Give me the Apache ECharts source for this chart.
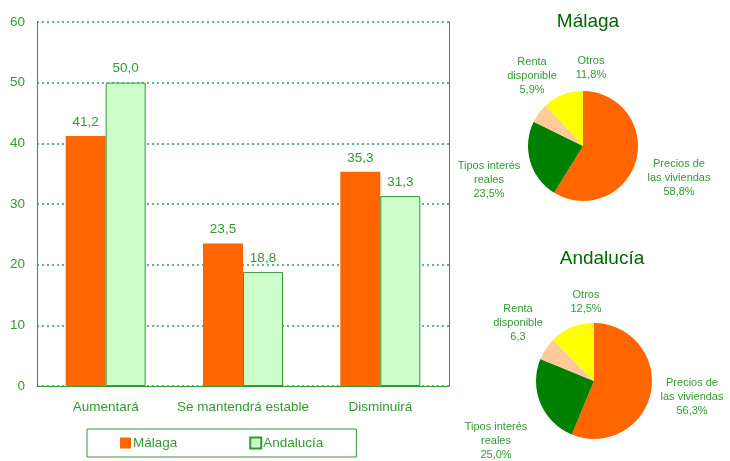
<!DOCTYPE html>
<html>
<head>
<meta charset="utf-8">
<script src="https://cdn.jsdelivr.net/npm/echarts@6/dist/echarts.min.js"></script>
<style>
  html, body { margin: 0; padding: 0; background: #fff; }
  #chart { width: 730px; height: 461px; }
</style>
</head>
<body>
<div id="chart"></div>
<script>
// datos
var categories = ['Aumentará', 'Se mantendrá estable', 'Disminuirá']
var malagaBars = [41.2, 23.5, 35.3]
var andaluciaBars = [50.0, 18.8, 31.3]
var yTicks = [0, 10, 20, 30, 40, 50, 60]

var pieNames = ['Precios de\nlas viviendas', 'Tipos interés\nreales', 'Renta\ndisponible', 'Otros']
var malagaPie = [58.8, 23.5, 5.9, 11.8]
var andaluciaPie = [56.3, 25.0, 6.3, 12.5]
var andaluciaPieLabels = ['56,3%', '25,0%', '6,3', '12,5%']
var malagaPieLabels = ['58,8%', '23,5%', '5,9%', '11,8%']

var green = '#339933'
var pieColors = ['#FF6600', '#008000', '#FFCC99', '#FFFF00']
var font = 'Liberation Sans, Arial, sans-serif'

// posiciones de las etiquetas de las tartas (centro del texto)
var malagaLabelPos = [[679, 178], [489, 180], [532, 76], [591, 68]]
var andaluciaLabelPos = [[692, 397], [496, 441], [518, 323], [586, 302]]

function fmt(v) { return v.toFixed(1).replace('.', ',') }

function pieData(values, labels) {
    return values.map(function (v, i) {
        return { value: v, name: pieNames[i], label: { formatter: pieNames[i] + '\n' + labels[i] } }
    })
}

function pieSeries(name, values, labels, center, radius, pos) {
    return {
        name: name,
        type: 'pie',
        center: center,
        radius: radius,
        startAngle: 90,
        clockwise: true,
        animation: false,
        color: pieColors,
        data: pieData(values, labels),
        label: {
            position: 'outside',
            color: green,
            fontFamily: font,
            fontSize: 11,
            lineHeight: 14,
            align: 'center',
            overflow: 'none',
            width: 120
        },
        labelLine: { show: false },
        labelLayout: function (p) {
            return { x: pos[p.dataIndex][0], y: pos[p.dataIndex][1], align: 'center', verticalAlign: 'middle' }
        },
        emphasis: { disabled: true }
    }
}

var chart = echarts.init(document.getElementById('chart'))
chart.setOption({
    backgroundColor: '#fff',
    animation: false,
    textStyle: { fontFamily: font },
    title: [
        { text: 'Málaga', left: 583, top: 7, textAlign: 'center',
          textStyle: { color: '#006600', fontSize: 19, fontWeight: 'normal', fontFamily: font } },
        { text: 'Andalucía', left: 597, top: 244, textAlign: 'center',
          textStyle: { color: '#006600', fontSize: 19, fontWeight: 'normal', fontFamily: font } }
    ],
    legend: {
        left: 87,
        top: 429,
        padding: [7, 33, 7, 33],
        borderColor: green,
        borderWidth: 1,
        itemGap: 72,
        itemWidth: 11,
        itemHeight: 11,
        icon: 'rect',
        textStyle: { color: green, fontSize: 13.5, padding: [0, 0, 0, -3] },
        data: ['Málaga', 'Andalucía']
    },
    grid: { left: 37, right: 281, top: 22, bottom: 75 },
    xAxis: {
        type: 'category',
        data: categories,
        axisLine: { lineStyle: { color: green, width: 1 } },
        axisTick: { show: false },
        axisLabel: { color: green, fontSize: 13.5, margin: 14, interval: 0 }
    },
    yAxis: [{
        type: 'value',
        min: yTicks[0],
        max: yTicks[yTicks.length - 1],
        interval: 10,
        axisLine: { show: true, lineStyle: { color: green, width: 1 } },
        axisTick: { show: false },
        axisLabel: { color: green, fontSize: 13.5, margin: 12 },
        splitLine: { lineStyle: { color: '#339966', type: [2, 3], width: 1.5 } }
    }, {
        type: 'value',
        position: 'right',
        min: yTicks[0],
        max: yTicks[yTicks.length - 1],
        interval: 10,
        axisLine: { show: true, lineStyle: { color: green, width: 1 } },
        axisTick: { show: false },
        axisLabel: { show: false },
        splitLine: { show: false }
    }],
    series: [{
        name: 'Málaga',
        type: 'bar',
        data: malagaBars,
        barWidth: 40,
        barGap: '0%',
        itemStyle: { color: '#FF6600' },
        label: { show: true, position: 'top', distance: 7, color: green, fontSize: 13.5,
                 formatter: function (p) { return fmt(p.value) } }
    }, {
        name: 'Andalucía',
        type: 'bar',
        data: andaluciaBars,
        barWidth: 40,
        itemStyle: { color: '#CCFFCC', borderColor: green, borderWidth: 1 },
        label: { show: true, position: 'top', distance: 7, color: green, fontSize: 13.5,
                 formatter: function (p) { return fmt(p.value) } }
    },
    pieSeries('Málaga pie', malagaPie, malagaPieLabels, [583, 146], 55, malagaLabelPos),
    pieSeries('Andalucía pie', andaluciaPie, andaluciaPieLabels, [594, 381], 58, andaluciaLabelPos)
    ]
})
</script>
</body>
</html>
